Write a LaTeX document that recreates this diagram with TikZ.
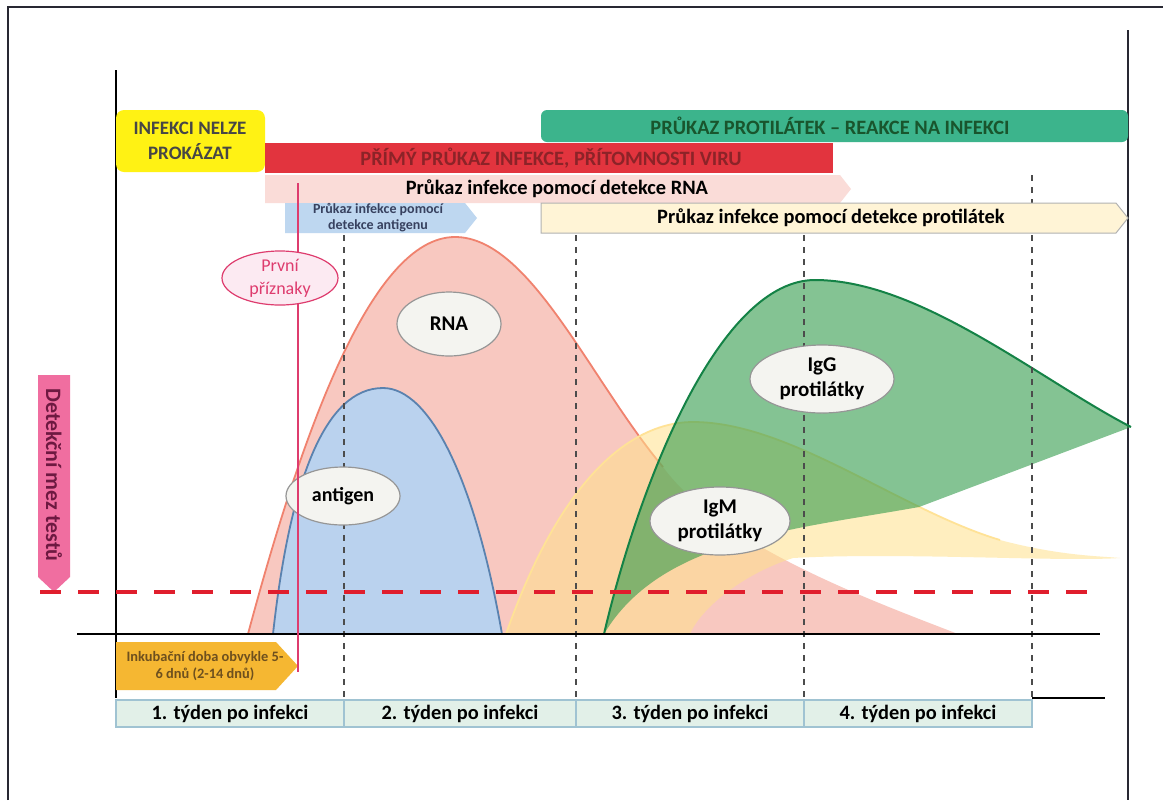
\documentclass[tikz,border=0pt]{standalone}
\usepackage{fontspec}
\setmainfont{Carlito}
\usepackage{tikz}
\usetikzlibrary{shapes.geometric}
\definecolor{frame_gray}{RGB}{40,40,50}
\definecolor{box_yellow}{RGB}{255,242,20}
\definecolor{text_gray}{RGB}{70,70,70}
\definecolor{bar_green}{RGB}{60,180,140}
\definecolor{text_green}{RGB}{25,85,45}
\definecolor{bar_red}{RGB}{226,52,62}
\definecolor{text_red}{RGB}{140,35,40}
\definecolor{bar_pink}{RGB}{250,220,216}
\definecolor{bar_blue}{RGB}{190,215,240}
\definecolor{text_blue}{RGB}{55,65,95}
\definecolor{bar_cream}{RGB}{255,244,214}
\definecolor{bar_orange}{RGB}{245,183,50}
\definecolor{text_brown}{RGB}{110,80,30}
\definecolor{cell_green}{RGB}{226,240,232}
\definecolor{edge_cell}{RGB}{160,195,210}
\definecolor{arrow_pink}{RGB}{240,110,160}
\definecolor{text_plum}{RGB}{110,25,65}
\definecolor{limit_red}{RGB}{224,30,45}
\definecolor{sympt_red}{RGB}{222,60,110}
\definecolor{sympt_fill}{RGB}{252,234,242}
\definecolor{rna_fill}{RGB}{248,200,192}
\definecolor{rna_edge}{RGB}{240,130,110}
\definecolor{ag_fill}{RGB}{186,210,238}
\definecolor{ag_edge}{RGB}{90,130,175}
\definecolor{igm_fill}{RGB}{255,225,140}
\definecolor{igm_edge}{RGB}{255,226,150}
\definecolor{igg_fill}{RGB}{50,155,75}
\definecolor{igg_edge}{RGB}{20,130,70}
\definecolor{oval_fill}{RGB}{244,244,240}
\definecolor{oval_edge}{RGB}{150,150,150}

\begin{document}
\begin{tikzpicture}[x=0.5pt,y=-0.5pt,semithick]
    \tikzstyle{txt}=[inner sep=0pt, align=center, font=\bfseries\fontsize{10.2}{12}\selectfont, text=black]
    \tikzstyle{oval}=[draw=oval_edge, fill=oval_fill, ellipse, inner sep=0pt, align=center, font=\bfseries\fontsize{10.5}{12.5}\selectfont, line width=0.6pt]
    \tikzstyle{week}=[draw=edge_cell, fill=cell_green, line width=0.6pt]
    \tikzstyle{guide}=[draw=black!70, line width=0.6pt, dash pattern=on 3pt off 3pt]
    \tikzstyle{axis}=[draw=black, line width=1.3pt]

    \useasboundingbox (0,0) rectangle (1163,800);
    \fill[white] (0,0) rectangle (1163,800);
    % frame
    \draw[frame_gray, line width=1.3pt] (8,800) -- (8,7) -- (1163,7);
    \draw[frame_gray, line width=0.8pt] (1128,30) -- (1128,800);

    % curves
    \fill[rna_fill] (248,634) .. controls (300,440) and (370,237) .. (455,237) .. controls (530,237) and (590,380) .. (663,467) .. controls (720,545) and (870,600) .. (958,634) -- cycle;
    \draw[rna_edge, line width=0.9pt] (248,634) .. controls (300,440) and (370,237) .. (455,237) .. controls (530,237) and (590,380) .. (663,467);
    \fill[ag_fill] (273,634) .. controls (290,480) and (325,388) .. (383,388) .. controls (430,388) and (475,480) .. (502,634) -- cycle;
    \draw[ag_edge, line width=0.9pt] (273,634) .. controls (290,480) and (325,388) .. (383,388) .. controls (430,388) and (475,480) .. (502,634);
    \fill[igm_fill, opacity=0.55] (506,634) .. controls (560,480) and (630,422) .. (693,422) .. controls (790,422) and (900,510) .. (1000,540) .. controls (1060,556) and (1100,556) .. (1120,558) .. controls (1060,562) and (900,552) .. (793,558) .. controls (740,575) and (700,610) .. (690,634) -- cycle;
    \draw[igm_edge, line width=0.9pt] (506,634) .. controls (560,480) and (630,422) .. (693,422) .. controls (790,422) and (900,510) .. (1000,540);
    \fill[igg_fill, opacity=0.6] (604,634) .. controls (640,480) and (720,280) .. (815,280) .. controls (920,280) and (1040,380) .. (1131,427) -- (919,507) .. controls (790,530) and (660,540) .. (604,634);
    \draw[igg_edge, line width=1pt] (604,634) .. controls (640,480) and (720,280) .. (815,280) .. controls (920,280) and (1040,380) .. (1131,427);

    % weeks
    \foreach \gx in {344,576,804,1032}
        \draw[guide] (\gx,175) -- (\gx,700);
    \foreach \wk/\wa/\wb in {1/116/344,2/344/576,3/576/804,4/804/1032} {
        \draw[week] (\wa,700) rectangle (\wb,727);
        \node[txt] (week\wk) at ({(\wa+\wb)/2},714) {\wk. týden po infekci};
    }

    % axes
    \draw[axis] (116,70) -- (116,698);
    \draw[axis] (77,634) -- (1100,634);
    \draw[axis] (1032,698) -- (1105,698);

    % detection limit
    \fill[arrow_pink] (38,375) -- (70,375) -- (70,577) -- (54,592) -- (38,577) -- cycle;
    \node[txt, text=text_plum, rotate=-90, font=\bfseries\fontsize{11}{13}\selectfont] (limit) at (54,475) {Detekční mez testů};
    \draw[limit_red, line width=2pt, dash pattern=on 10.5pt off 8.5pt] (40,592) -- (1095,592);

    % bars
    \fill[box_yellow, rounded corners=4pt] (116,110) rectangle (265,172);
    \node[txt, text=text_gray, font=\bfseries\fontsize{9.5}{12.5}\selectfont] (nolze) at (190,141) {INFEKCI NELZE\\PROKÁZAT};
    \fill[bar_green, rounded corners=3pt] (541,110) rectangle (1128,142);
    \node[txt, text=text_green] (antibody) at (830,126) {PRŮKAZ PROTILÁTEK – REAKCE NA INFEKCI};
    \fill[bar_red] (265,143) rectangle (833,173);
    \node[txt, text=text_red] (direct) at (551,158) {PŘÍMÝ PRŮKAZ INFEKCE, PŘÍTOMNOSTI VIRU};
    \fill[bar_pink] (265,175) -- (840,175) -- (851,189) -- (840,203) -- (265,203) -- cycle;
    \node[txt] (rnabar) at (557,189) {Průkaz infekce pomocí detekce RNA};
    \fill[bar_blue] (285,203) -- (465,203) -- (477,218) -- (465,233) -- (285,233) -- cycle;
    \node[txt, text=text_blue, font=\bfseries\fontsize{7}{8}\selectfont] (agbar) at (378,218) {Průkaz infekce pomocí\\detekce antigenu};
    \filldraw[fill=bar_cream, draw=black!30, line width=0.5pt] (541,203) -- (1116,203) -- (1128,218) -- (1116,233) -- (541,233) -- cycle;
    \node[txt] (abbar) at (831,218) {Průkaz infekce pomocí detekce protilátek};
    \fill[bar_orange] (116,642) -- (276,642) -- (298,666) -- (276,690) -- (116,690) -- cycle;
    \node[txt, text=text_brown, font=\bfseries\fontsize{7.2}{8.5}\selectfont] (incub) at (205,666) {Inkubační doba obvykle 5-\\6 dnů (2-14 dnů)};

    % labels
    \node[oval, minimum width=52pt, minimum height=32pt] (rna) at (449,324) {RNA};
    \node[oval, font=\bfseries\fontsize{10}{12}\selectfont, minimum width=57pt, minimum height=29pt] (antigen) at (343,496) {antigen};
    \node[oval, minimum width=72pt, minimum height=34pt] (igg) at (822,379) {IgG\\protilátky};
    \node[oval, minimum width=70pt, minimum height=34pt] (igm) at (720,521) {IgM\\protilátky};
    \draw[sympt_red, line width=0.8pt] (298,183) -- (298,672);
    \node[oval, draw=sympt_red, fill=sympt_fill, text=sympt_red, font=\fontsize{9}{11.5}\selectfont, minimum width=58pt, minimum height=25pt] (symptom) at (280,278) {První\\příznaky};
\end{tikzpicture}
\end{document}
